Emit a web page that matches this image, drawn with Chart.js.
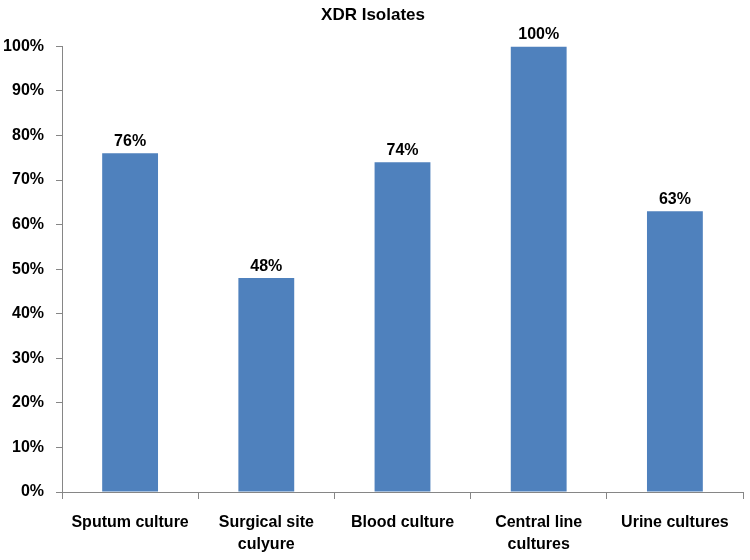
<!DOCTYPE html>
<html><head><meta charset="utf-8">
<script src="https://cdn.jsdelivr.net/npm/chart.js@4/dist/chart.umd.min.js"></script>
<style>html,body{margin:0;padding:0;background:#fff}#w{width:750px;height:560px}</style>
</head><body><div id="w"><canvas id="c" width="750" height="560"></canvas></div>
<script>
const categories = [['Sputum culture'], ['Surgical site', 'culyure'], ['Blood culture'], ['Central line', 'cultures'], ['Urine cultures']];
const values = [76, 48, 74, 100, 63];
const yTicks = [0, 10, 20, 30, 40, 50, 60, 70, 80, 90, 100];

const FONT = '"Liberation Sans", Arial, sans-serif';

const labelPlugin = {
  id: 'barLabels',
  afterDatasetsDraw(chart) {
    const ctx = chart.ctx;
    const meta = chart.getDatasetMeta(0);
    ctx.save();
    ctx.font = 'bold 16px ' + FONT;
    ctx.fillStyle = '#000';
    ctx.textAlign = 'center';
    ctx.textBaseline = 'bottom';
    meta.data.forEach((bar, i) => {
      ctx.fillText(values[i] + '%', bar.x, bar.y - 4);
    });
    ctx.restore();
  }
};

new Chart(document.getElementById('c'), {
  type: 'bar',
  data: {
    labels: categories,
    datasets: [{
      data: values,
      backgroundColor: '#4F81BD',
      borderWidth: 0,
      categoryPercentage: 1,
      barPercentage: 0.41
    }]
  },
  options: {
    responsive: false,
    animation: false,
    layout: { padding: { left: 3, right: 7, top: 3, bottom: 4 } },
    plugins: {
      legend: { display: false },
      tooltip: { enabled: false },
      title: {
        display: true,
        text: 'XDR Isolates',
        color: '#000',
        font: { family: FONT, size: 17, weight: 'bold' },
        padding: { top: 2, bottom: 21 }
      }
    },
    scales: {
      x: {
        offset: true,
        afterFit(axis) { axis.height = 64; },
        grid: { offset: true, drawOnChartArea: false, drawTicks: true, tickLength: 7, color: '#868686' },
        border: { color: '#868686' },
        ticks: { color: '#000', font: { family: FONT, size: 16, weight: 'bold', lineHeight: 1.4 }, padding: 12, maxRotation: 0, autoSkip: false }
      },
      y: {
        min: 0, max: 100,
        afterFit(axis) { axis.width = 59; },
        afterBuildTicks(axis) { axis.ticks = yTicks.map(v => ({ value: v })); },
        grid: { drawOnChartArea: false, drawTicks: true, tickLength: 6, color: '#868686' },
        border: { color: '#868686' },
        ticks: { color: '#000', font: { family: FONT, size: 16, weight: 'bold' }, padding: 12, callback: v => v + '%' }
      }
    }
  },
  plugins: [labelPlugin]
});
</script>
</body></html>
